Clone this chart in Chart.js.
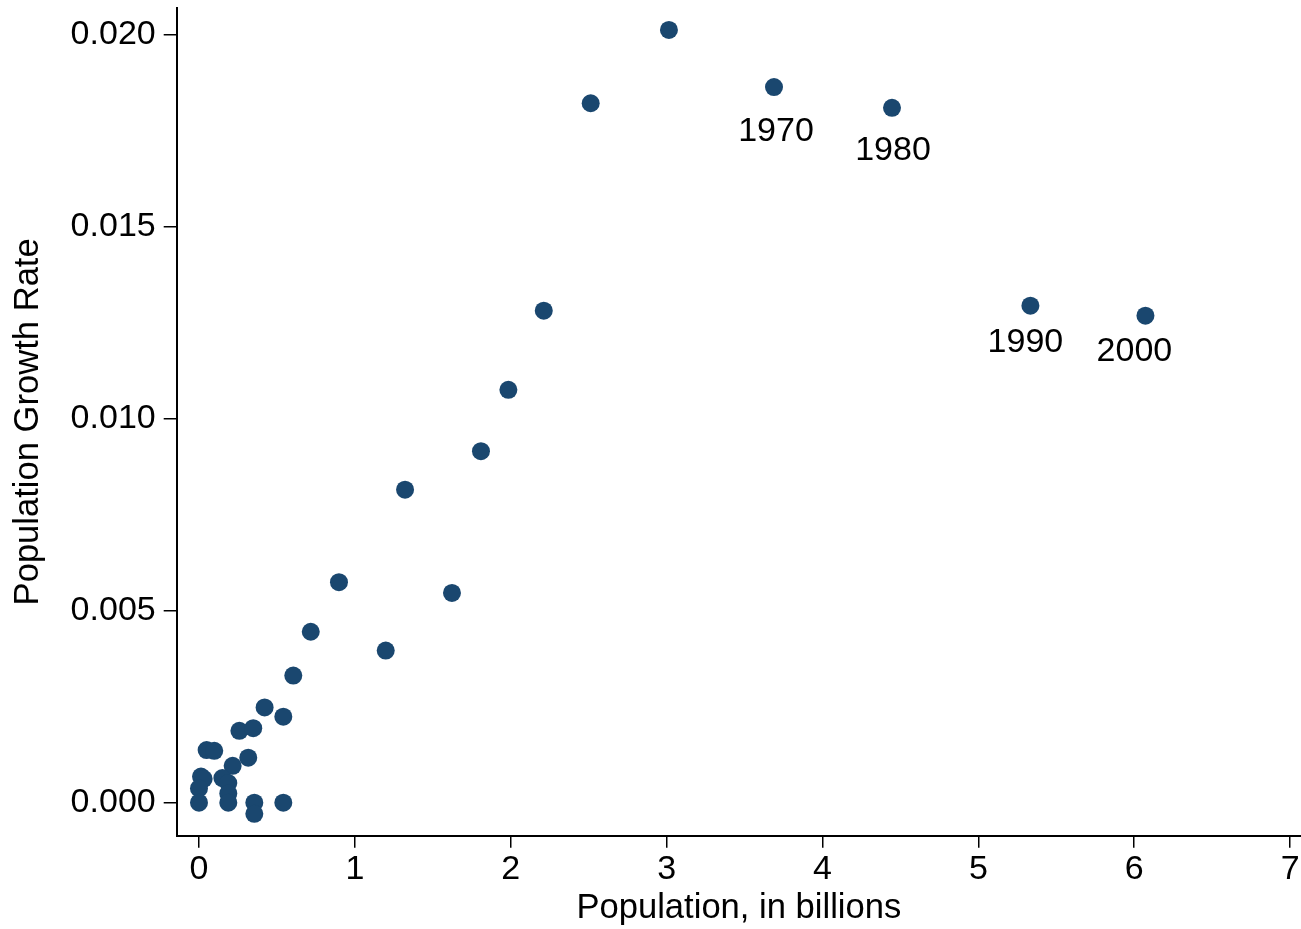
<!DOCTYPE html>
<html>
<head>
<meta charset="utf-8">
<script src="https://cdn.jsdelivr.net/npm/chart.js@4/dist/chart.umd.min.js"></script>
<style>
  html, body { margin: 0; padding: 0; background: #fff; overflow: hidden; }
  #wrap { width: 1301px; height: 929px; position: relative; }
  canvas { display: block; }
</style>
</head>
<body>
<div id="wrap"><canvas id="c"></canvas></div>
<script>
// ---- data ----
const popBillions = [
  3.015, 2.513, 3.689, 4.446, 5.334, 6.072, 2.212, 1.985, 1.809, 1.322,
  0.898, 1.623, 0.717, 1.198, 0.605, 0.421, 0.541, 0.259, 0.348,
  0.049, 0.098, 0.316, 0.216, 0.013, 0.030, 0.150, 0.188, 0.000, 0.188,
  0.000, 0.188, 0.355, 0.355, 0.541
];
const growthRate = [
  0.02012, 0.01821, 0.01863, 0.01809, 0.01294, 0.01268, 0.01281, 0.01075, 0.00915, 0.00815,
  0.00574, 0.00546, 0.00445, 0.00396, 0.00331, 0.00248, 0.00224, 0.00187, 0.00194,
  0.00137, 0.00135, 0.00117, 0.00096, 0.00068, 0.00062, 0.00064, 0.00051, 0.00037, 0.00024,
  0.00000, 0.00000, 0.00000, -0.00029, 0.00000
];
const pointLabels = [
  '', '', '1970', '1980', '1990', '2000', '', '', '', '',
  '', '', '', '', '', '', '', '', '',
  '', '', '', '', '', '', '', '', '', '',
  '', '', '', '', ''
];
const xTicks = [0, 1, 2, 3, 4, 5, 6, 7];
const yTicks = [0.000, 0.005, 0.010, 0.015, 0.020];
const xTitle = 'Population, in billions';
const yTitle = 'Population Growth Rate';

// ---- styling ----
const NAVY = 'rgb(26,71,111)';
const FONT = "'Liberation Sans', Arial, Helvetica, sans-serif";
const labelOffsets = { '1970': [2, 45], '1980': [1, 43], '1990': [-5, 37], '2000': [-11, 36] };

const points = popBillions.map((x, i) => ({ x: x, y: growthRate[i] }));

const labelPlugin = {
  id: 'pointLabels',
  afterDatasetsDraw(chart) {
    const ctx = chart.ctx;
    const xs = chart.scales.x, ys = chart.scales.y;
    ctx.save();
    ctx.font = '34px ' + FONT;
    ctx.fillStyle = '#000';
    ctx.textAlign = 'center';
    ctx.textBaseline = 'middle';
    pointLabels.forEach((t, i) => {
      if (!t) return;
      const off = labelOffsets[t] || [0, 40];
      const px = xs.getPixelForValue(popBillions[i]) + off[0];
      const py = ys.getPixelForValue(growthRate[i]) + off[1];
      ctx.fillText(t, px, py);
    });
    ctx.restore();
  }
};

new Chart(document.getElementById('c'), {
  type: 'scatter',
  data: {
    datasets: [{
      data: points,
      backgroundColor: NAVY,
      borderColor: NAVY,
      borderWidth: 0,
      pointRadius: 9,
      pointHoverRadius: 9,
      clip: false
    }]
  },
  options: {
    responsive: true,
    maintainAspectRatio: false,
    animation: false,
    layout: { autoPadding: false, padding: { top: 8, right: 0, left: 0, bottom: 0 } },
    plugins: { legend: { display: false }, tooltip: { enabled: false } },
    scales: {
      x: {
        type: 'linear',
        min: -0.143,
        max: 7.07,
        afterBuildTicks: (s) => { s.ticks = xTicks.map(v => ({ value: v })); },
        afterFit: (s) => { s.height = 93.3; s.paddingLeft = 0; s.paddingRight = 0; },
        ticks: {
          color: '#000',
          font: { family: FONT, size: 34 },
          padding: 2,
          maxRotation: 0,
          autoSkip: false,
          callback: (v) => String(v)
        },
        grid: { display: true, drawOnChartArea: false, drawTicks: true, tickLength: 12, color: '#000', lineWidth: 1.5 },
        border: { display: true, color: '#000', width: 2 },
        title: { display: true, text: xTitle, color: '#000', font: { family: FONT, size: 34.6 }, padding: { top: 0, bottom: 0 } }
      },
      y: {
        type: 'linear',
        min: -0.00086,
        max: 0.02069,
        afterBuildTicks: (s) => { s.ticks = yTicks.map(v => ({ value: v })); },
        afterFit: (s) => { s.width = 176.7; s.paddingTop = 0; s.paddingBottom = 0; },
        ticks: {
          color: '#000',
          font: { family: FONT, size: 34 },
          padding: 8,
          autoSkip: false,
          callback: (v) => Number(v).toFixed(3)
        },
        grid: { display: true, drawOnChartArea: false, drawTicks: true, tickLength: 13, color: '#000', lineWidth: 1.5 },
        border: { display: true, color: '#000', width: 2 },
        title: { display: true, text: yTitle, color: '#000', font: { family: FONT, size: 34.6 }, padding: { top: 8, bottom: 0 } }
      }
    }
  },
  plugins: [labelPlugin]
});
</script>
</body>
</html>
